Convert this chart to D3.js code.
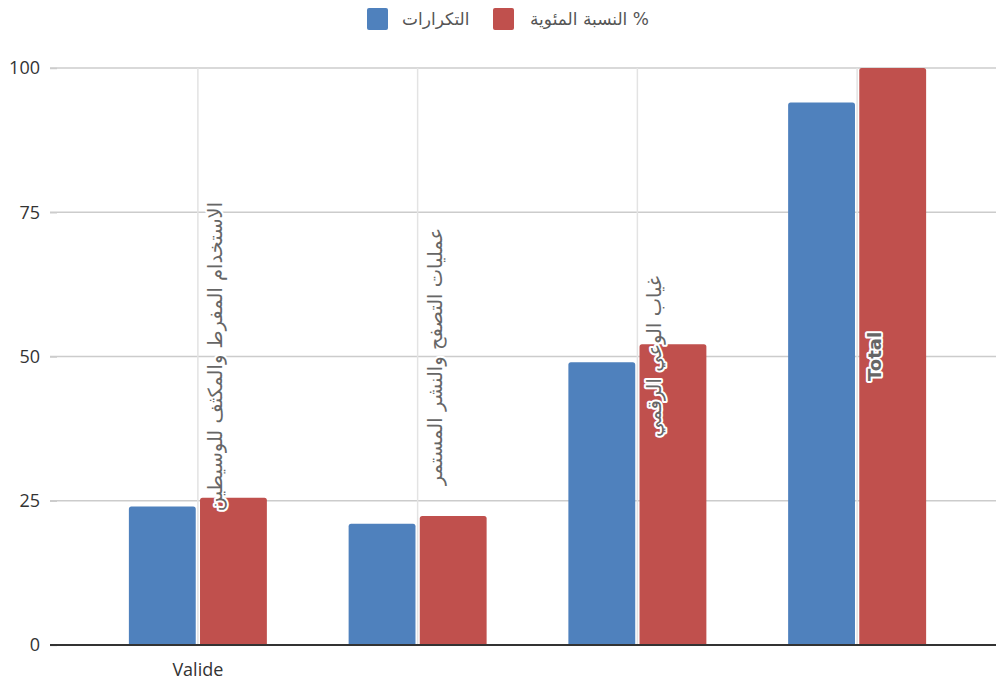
<!DOCTYPE html>
<html>
<head>
<meta charset="utf-8">
<script src="https://cdn.jsdelivr.net/npm/d3@7"></script>
<style>
  html, body { margin: 0; padding: 0; background: #fff; }
  svg { display: block; font-family: "Open Sans", "DejaVu Sans", sans-serif; }
</style>
</head>
<body>
<svg id="chart" width="996" height="682"></svg>
<script>
// Categories (drawn as rotated labels inside each group)
const categories = [
  "الاستخدام المفرط والمكثف للوسيطين",
  "عمليات التصفح والنشر المستمر",
  "غياب الوعي الرقمي",
  "Total"
];
// Series
const seriesNames = ["التكرارات", "% النسبة المئوية"];
const frequencies = [24, 21, 49, 94];
const percentages = [25.53, 22.34, 52.13, 100];
const seriesColors = ["#4f81bd", "#c0504d"];
const yTicks = [0, 25, 50, 75, 100];
const groupLabel = "Valide";

const svg = d3.select("#chart");
const plot = { left: 50, right: 996, top: 68, bottom: 645 };

const y = d3.scaleLinear().domain([0, 100]).range([plot.bottom, plot.top]);
const x0 = d3.scaleBand().domain(categories).range([88, 967]).padding(0);
const bw = x0.bandwidth();
const x1 = d3.scaleBand().domain(seriesNames)
  .range([bw / 2 - 69, bw / 2 + 69]).paddingInner(0.06).paddingOuter(0);

// Horizontal gridlines
svg.append("g").selectAll("line").data(yTicks.filter(t => t > 0)).join("line")
  .attr("x1", plot.left).attr("x2", plot.right)
  .attr("y1", d => y(d)).attr("y2", d => y(d))
  .attr("stroke", "#cccccc").attr("stroke-width", 1.5);

// Vertical gridlines at category centres
svg.append("g").selectAll("line").data(categories).join("line")
  .attr("x1", d => x0(d) + bw / 2).attr("x2", d => x0(d) + bw / 2)
  .attr("y1", y(100)).attr("y2", plot.bottom)
  .attr("stroke", "#e3e3e3").attr("stroke-width", 1.5);

// Y axis labels
const yAxis = d3.axisLeft(y).tickValues(yTicks).tickSize(7).tickPadding(10);
const yg = svg.append("g").attr("transform", `translate(${plot.left + 7},0)`).call(yAxis);
yg.select(".domain").remove();
yg.selectAll(".tick line").attr("stroke", "#cccccc").attr("stroke-width", 1.5);
yg.selectAll(".tick text").attr("fill", "#333").style("font-size", "18px")
  .style("font-family", "'Open Sans', sans-serif");

// Bars with rounded top corners
function topRounded(x, yTop, w, h, r) {
  r = Math.min(r, h, w / 2);
  return `M${x},${yTop + h}V${yTop + r}Q${x},${yTop} ${x + r},${yTop}` +
    `H${x + w - r}Q${x + w},${yTop} ${x + w},${yTop + r}V${yTop + h}Z`;
}
const rows = categories.map((c, i) => ({
  cat: c,
  vals: [
    { s: seriesNames[0], v: frequencies[i], color: seriesColors[0] },
    { s: seriesNames[1], v: percentages[i], color: seriesColors[1] }
  ]
}));
const groups = svg.append("g").selectAll("g").data(rows).join("g")
  .attr("transform", d => `translate(${x0(d.cat)},0)`);
groups.selectAll("path").data(d => d.vals).join("path")
  .attr("d", d => topRounded(x1(d.s), y(d.v), x1.bandwidth(), y(0) - y(d.v), 2.5))
  .attr("fill", d => d.color);

// Baseline
svg.append("line")
  .attr("x1", plot.left).attr("x2", plot.right)
  .attr("y1", y(0)).attr("y2", y(0))
  .attr("stroke", "#333").attr("stroke-width", 2);

// Rotated category labels with white halo
svg.append("g").selectAll("text").data(categories).join("text")
  .attr("transform", d => `translate(${x0(d) + bw / 2 + 24},${y(50)}) rotate(-90)`)
  .attr("text-anchor", "middle")
  .attr("fill", "#666")
  .attr("stroke", "#fff").attr("stroke-width", 4).attr("stroke-linejoin", "round")
  .style("paint-order", "stroke")
  .style("font-size", d => d === "Total" ? "18px" : "19.5px")
  .style("font-weight", d => d === "Total" ? "bold" : "normal")
  .style("font-family", "'DejaVu Sans', sans-serif")
  .text(d => d);

// Group label under the first category
svg.append("text")
  .attr("x", x0(categories[0]) + bw / 2).attr("y", 676)
  .attr("text-anchor", "middle").attr("fill", "#333")
  .style("font-size", "18px")
  .text(groupLabel);

// Legend
const legend = svg.append("g");
const legendItems = [
  { name: seriesNames[0], color: seriesColors[0], sx: 367, tx: 402 },
  { name: seriesNames[1], color: seriesColors[1], sx: 493, tx: 530 }
];
legendItems.forEach(it => {
  legend.append("rect").attr("x", it.sx).attr("y", 8).attr("width", 21).attr("height", 22)
    .attr("rx", 2).attr("fill", it.color);
  legend.append("text").attr("x", it.tx).attr("y", 25)
    .attr("fill", "#555").style("font-size", "17px")
    .style("font-family", "'DejaVu Sans', sans-serif")
    .attr("direction", "rtl").attr("text-anchor", "end")
    .text(it.name);
});
</script>
</body>
</html>
